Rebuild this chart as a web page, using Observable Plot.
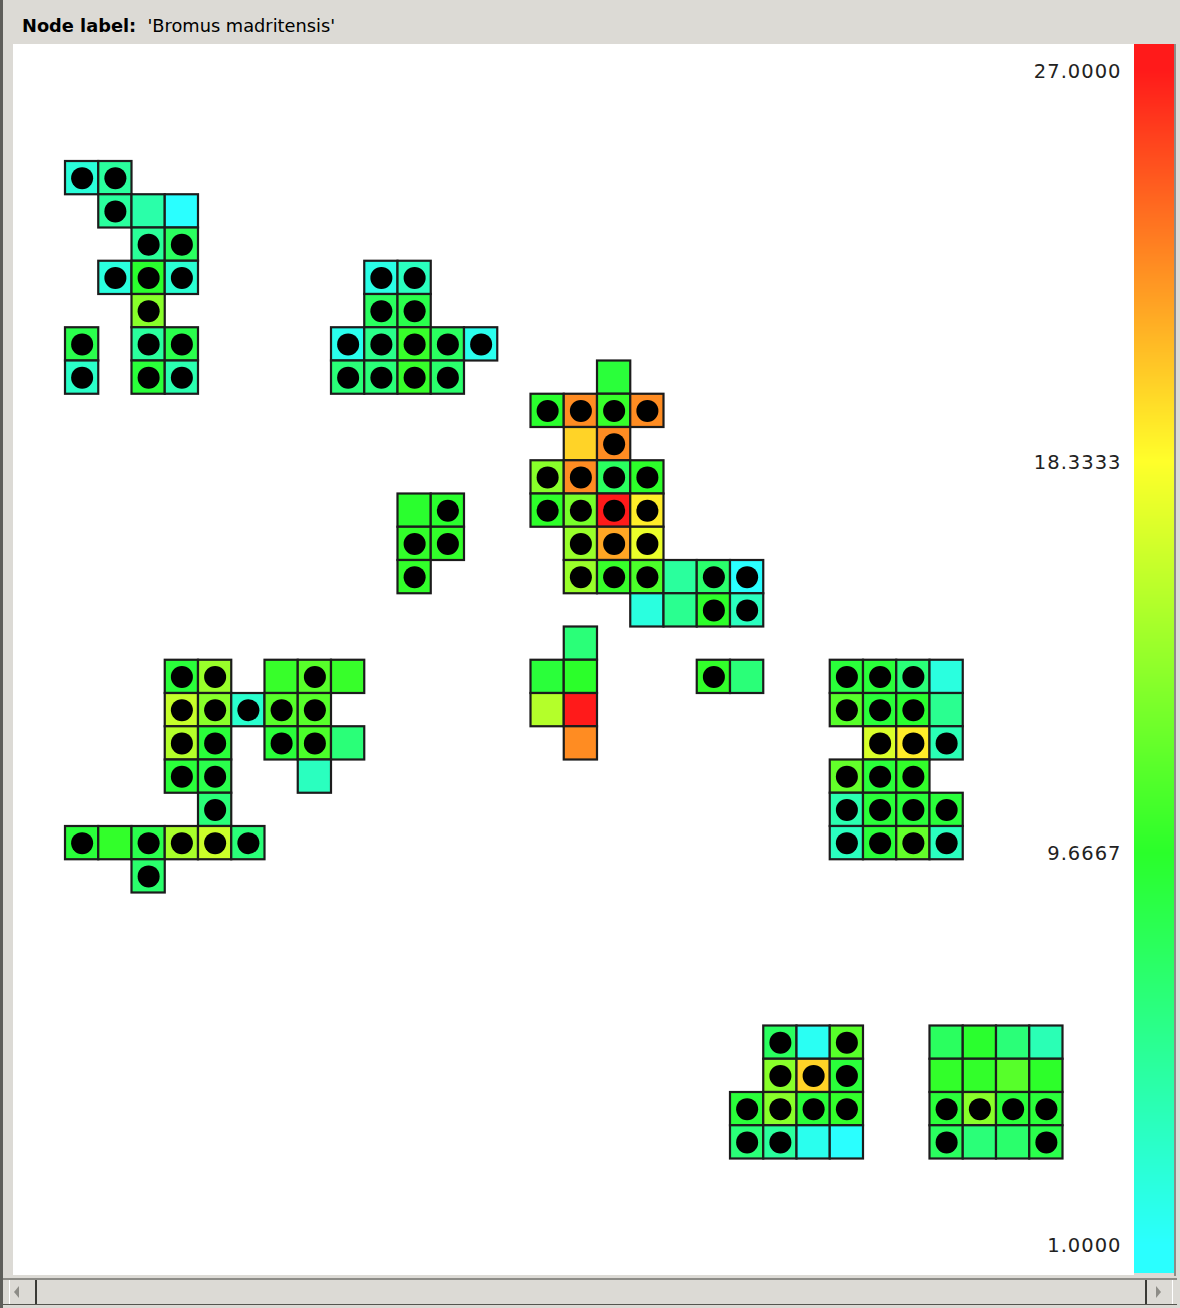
<!DOCTYPE html>
<html>
<head>
<meta charset="utf-8">
<script src="https://cdn.jsdelivr.net/npm/d3@7"></script>
<script src="https://cdn.jsdelivr.net/npm/@observablehq/plot@0.6"></script>
<style>
html, body { margin: 0; padding: 0; }
body { width: 1180px; height: 1308px; background: #dcdad5; position: relative; overflow: hidden; font-family: "DejaVu Sans", sans-serif; }
#edge { position: absolute; left: 0; top: 0; width: 3px; height: 1308px; background: #5e5e5a; }
#title { position: absolute; left: 22px; top: 15px; font-size: 17.8px; color: #000; white-space: pre; line-height: 22px; }
#title b { font-weight: bold; }
#main { position: absolute; left: 13px; top: 44px; }
#legend { position: absolute; left: 1000px; top: 44px; width: 174px; }
#rightline { position: absolute; left: 1174px; top: 44px; width: 2px; height: 1232px; background: #8d8c87; }
#scroll { position: absolute; left: 3px; top: 1278px; width: 1174px; height: 27px; background: #dcdad5; border-top: 2px solid #8d8c87; border-bottom: 1px solid #55554f; box-sizing: border-box; }
.btn { position: absolute; top: 0; width: 28px; height: 24px; box-sizing: border-box; }
#bl { left: 6px; border-right: 2px solid #3a3a36; border-left: 1px solid #fff; }
#br { right: 4px; border-left: 2px solid #3a3a36; border-right: 1px solid #fff; }
.arr { position: absolute; top: 6px; width: 0; height: 0; border-top: 6px solid transparent; border-bottom: 6px solid transparent; }
#bl .arr { left: 4px; border-right: 5px solid #8d8c87; }
#br .arr { left: 9px; border-left: 5px solid #8d8c87; }
</style>
</head>
<body>
<div id="edge"></div>
<div id="title"><b>Node label:</b>  'Bromus madritensis'</div>
<div id="main"></div>
<div id="legend"></div>
<div id="rightline"></div>
<div id="scroll"><div class="btn" id="bl"><div class="arr"></div></div><div class="btn" id="br"><div class="arr"></div></div></div>
<script>
// Grid cells: column, row, value, dot (1 = black dot)
const cellCol = [
  0,1, 1,2,3, 2,3, 1,2,3, 2, 0,2,3, 0,2,3,
  9,10, 9,10, 8,9,10,11,12, 8,9,10,11,
  16, 14,15,16,17, 15,16, 14,15,16,17, 14,15,16,17, 15,16,17, 15,16,17,18,19,20, 17,18,19,20,
  10,11, 10,11, 10,
  3,4,6,7,8, 3,4,5,6,7, 3,4,6,7,8, 3,4,7, 4, 0,1,2,3,4,5, 2,
  15, 14,15, 14,15, 15, 19,20,
  23,24,25,26, 23,24,25,26, 24,25,26, 23,24,25, 23,24,25,26, 23,24,25,26,
  21,22,23, 21,22,23, 20,21,22,23, 20,21,22,23,
  26,27,28,29, 26,27,28,29, 26,27,28,29, 26,27,28,29
];
const cellRow = [
  0,0, 1,1,1, 2,2, 3,3,3, 4, 5,5,5, 6,6,6,
  3,3, 4,4, 5,5,5,5,5, 6,6,6,6,
  6, 7,7,7,7, 8,8, 9,9,9,9, 10,10,10,10, 11,11,11, 12,12,12,12,12,12, 13,13,13,13,
  10,10, 11,11, 12,
  15,15,15,15,15, 16,16,16,16,16, 17,17,17,17,17, 18,18,18, 19, 20,20,20,20,20,20, 21,
  14, 15,15, 16,16, 17, 15,15,
  15,15,15,15, 16,16,16,16, 17,17,17, 18,18,18, 19,19,19,19, 20,20,20,20,
  26,26,26, 27,27,27, 28,28,28,28, 29,29,29,29,
  26,26,26,26, 27,27,27,27, 28,28,28,28, 29,29,29,29
];
const cellValue = [
  2.5,5, 5,4.5,1, 5.2,7.5, 2.3,9.5,2.8, 13.5, 8.3,5,8.3, 3.2,9,4.2,
  2,3.6, 7.5,8.3, 1.7,5.8,10.2,7.5,1.7, 6.5,6.5,10.2,7,
  9, 9.5,22.7,10.2,22.7, 20,22.7, 13.5,22.7,7.5,9.8, 9.8,12.8,27,19, 14.2,21.7,17.5, 14.2,10.2,11,5,7,1, 2.3,5.5,9.8,3.6,
  9.5,9.5, 10,10, 10,
  9,14.2,10.2,11.5,10.2, 16,13.5,3,11.5,11.5, 15.3,9,9,11,6.5, 9,8.3,3.6, 6.5, 9,10,8.3,14.8,16.2,6.5, 7,
  6.5, 9,9.7, 15.3,27, 22.7, 10,6.5,
  9,9,6.5,2.3, 11.5,9,9.5,5.5, 16.8,19,4, 12,9,10, 4.2,9,9,9, 3.6,9,12,3.6,
  7.5,1.5,11.5, 13.5,20,9, 9,13.5,9,10, 6.5,5,1.7,1,
  7.5,9.5,6.5,4, 10,10,11.5,9.8, 9,13.5,9,9, 7.5,6.5,7,8.3
];
const cellDot = [
  1,1, 1,0,0, 1,1, 1,1,1, 1, 1,1,1, 1,1,1,
  1,1, 1,1, 1,1,1,1,1, 1,1,1,1,
  0, 1,1,1,1, 0,1, 1,1,1,1, 1,1,1,1, 1,1,1, 1,1,1,0,1,1, 0,0,1,1,
  0,1, 1,1, 1,
  1,1,0,1,0, 1,1,1,1,1, 1,1,1,1,0, 1,1,0, 1, 1,0,1,1,1,1, 1,
  0, 0,0, 0,0, 0, 1,0,
  1,1,1,0, 1,1,1,0, 1,1,1, 1,1,1, 1,1,1,1, 1,1,1,1,
  1,0,1, 1,1,1, 1,1,1,1, 1,1,0,0,
  0,0,0,0, 0,0,0,0, 1,1,1,1, 1,0,0,1
];
// Colour legend
const legendTicks = [1, 9.6667, 18.3333, 27];
const legendColors = ["#2affff", "#2aff2a", "#ffff2a", "#ff1a1a"];

const cells = cellCol.map((c, i) => ({col: c, row: cellRow[i], value: cellValue[i], dot: cellDot[i]}));
const colorScale = {type: "linear", domain: legendTicks, range: legendColors, interpolate: "rgb", clamp: true};

const main = Plot.plot({
  width: 1121, height: 1231,
  marginTop: 0, marginRight: 0, marginBottom: 0, marginLeft: 0,
  x: {domain: [0, 30], range: [52, 1049.5], axis: null},
  y: {domain: [0, 30], range: [117, 1114.5], axis: null},
  color: colorScale,
  style: {background: "white"},
  marks: [
    Plot.rect(cells, {x1: "col", x2: d => d.col + 1, y1: "row", y2: d => d.row + 1, fill: "value", stroke: "#1c1c1c", strokeWidth: 2.2}),
    Plot.dot(cells.filter(d => d.dot), {x: d => d.col + 0.5, y: d => d.row + 0.5, r: 11, fill: "black", stroke: "none"})
  ]
});
document.getElementById("main").appendChild(main);

const step = 0.025;
const ramp = d3.range(0.3, 27.7, step);
const legend = Plot.plot({
  width: 174, height: 1229,
  marginTop: 0, marginRight: 0, marginBottom: 0, marginLeft: 0,
  x: {domain: [0, 1], range: [134, 174], axis: null},
  y: {domain: [1, 27], range: [1201, 27], axis: null},
  color: colorScale,
  style: {background: "transparent", fontFamily: "DejaVu Sans, sans-serif", fontSize: "19.5px", color: "#222", letterSpacing: "1px", overflow: "hidden"},
  marks: [
    Plot.rect(ramp, {x1: 0, x2: 1, y1: d => d, y2: d => d + step * 2, fill: d => d, shapeRendering: "crispEdges"}),
    Plot.text(legendTicks, {x: 0, y: d => d, text: d => d.toFixed(4), textAnchor: "end", dx: -13, fill: "#222", fontSize: 19.5})
  ]
});
document.getElementById("legend").appendChild(legend);
</script>
</body>
</html>
